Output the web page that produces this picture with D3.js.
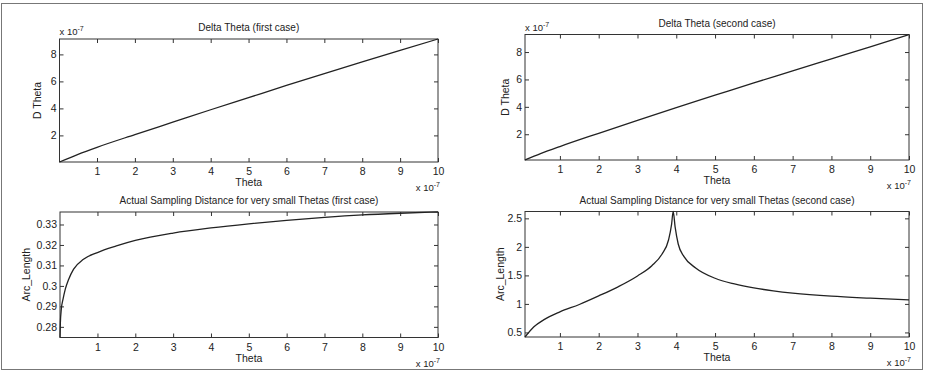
<!DOCTYPE html>
<html>
<head>
<meta charset="utf-8">
<script src="https://cdn.jsdelivr.net/npm/d3@7"></script>
<style>
  body { margin: 0; background: #fff; }
  text { font-family: "Liberation Sans", Arial, Helvetica, sans-serif; fill: #222; }
</style>
</head>
<body>
<svg id="fig" width="925" height="377"></svg>
<script>
// Theta values (units of 1e-7) and the series
const thetaDT1 = [0.01, 0.5, 1, 2, 3, 4, 5, 6, 7, 8, 9, 10];
const dTheta1  = [0.03, 0.6, 1.12, 2.06, 2.98, 3.9, 4.8, 5.7, 6.58, 7.45, 8.3, 9.14];

const thetaDT2 = [0.1, 0.5, 1, 2, 3, 4, 5, 6, 7, 8, 9, 10];
const dTheta2  = [0.12, 0.58, 1.1, 2.07, 3.02, 3.95, 4.85, 5.75, 6.62, 7.5, 8.38, 9.28];

const thetaArc1 = [0.01, 0.02, 0.045, 0.09, 0.15, 0.24, 0.37, 0.63, 1, 1.5, 2, 3, 4, 5, 6, 7, 8, 9, 10];
const arcLen1   = [0.2748, 0.282, 0.2887, 0.2935, 0.2984, 0.3033, 0.3082, 0.313, 0.3163, 0.3195, 0.3222,
                   0.3258, 0.3283, 0.3303, 0.332, 0.3335, 0.3347, 0.3355, 0.3361];

const thetaArc2 = [0.1, 0.33, 0.58, 1, 1.5, 2, 2.5, 3, 3.37, 3.63, 3.8, 3.88, 3.92, 3.97, 4.05, 4.2,
                   4.5, 5, 5.5, 6, 6.5, 7, 8, 9, 10];
const arcLen2   = [0.42, 0.6, 0.72, 0.86, 0.99, 1.14, 1.3, 1.49, 1.67, 1.87, 2.12, 2.4, 2.62, 2.35,
                   2.05, 1.83, 1.63, 1.45, 1.35, 1.28, 1.23, 1.19, 1.135, 1.10, 1.07];

const xTicks = [1, 2, 3, 4, 5, 6, 7, 8, 9, 10];
const yTicksDT = [2, 4, 6, 8];
const yTicksArc1 = [0.28, 0.29, 0.3, 0.31, 0.32, 0.33];
const yTicksArc2 = [0.5, 1, 1.5, 2, 2.5];

const svg = d3.select("#fig");

// outer frame of the scanned figure
svg.append("rect")
  .attr("x", 1.5).attr("y", 3.5)
  .attr("width", 921).attr("height", 366)
  .attr("fill", "none")
  .attr("stroke", "#777");

function sciLabel(g, x, y, anchor) {
  const t = g.append("text")
    .attr("x", x).attr("y", y)
    .attr("text-anchor", anchor)
    .style("font-size", "9.5px");
  t.append("tspan").text("x 10");
  t.append("tspan").attr("dy", -4).style("font-size", "7px").text("-7");
}

function panel(p) {
  const x = d3.scaleLinear().domain(d3.extent(p.xs)).range([p.left, p.right]);
  const y = d3.scaleLinear().domain(d3.extent(p.ys)).range([p.bottom, p.top]);
  const w = p.right - p.left, h = p.bottom - p.top;
  const g = svg.append("g");

  // axes with inward ticks on all four sides
  g.append("g").attr("transform", `translate(0,${p.bottom})`)
    .call(d3.axisBottom(x).tickValues(xTicks).tickSizeInner(-4).tickSizeOuter(0).tickPadding(6));
  g.append("g").attr("transform", `translate(0,${p.top})`)
    .call(d3.axisTop(x).tickValues(xTicks).tickSizeInner(-4).tickSizeOuter(0).tickFormat(""));
  g.append("g").attr("transform", `translate(${p.left},0)`)
    .call(d3.axisLeft(y).tickValues(p.yTicks).tickSizeInner(-4).tickSizeOuter(0).tickPadding(3)
      .tickFormat(d => String(+d.toFixed(2))));
  g.append("g").attr("transform", `translate(${p.right},0)`)
    .call(d3.axisRight(y).tickValues(p.yTicks).tickSizeInner(-4).tickSizeOuter(0).tickFormat(""));

  g.selectAll(".domain").remove();
  g.selectAll(".tick line").attr("stroke", "#333");
  g.selectAll(".tick text").style("font-size", "10.5px").attr("fill", "#222")
    .style("font-family", "'Liberation Sans', Arial, sans-serif");

  g.append("rect")
    .attr("x", p.left).attr("y", p.top)
    .attr("width", w).attr("height", h)
    .attr("fill", "none")
    .attr("stroke", "#333")
    .attr("stroke-width", 1);

  const pts = p.xs.map((v, i) => [v, p.ys[i]]);
  g.append("path")
    .datum(pts)
    .attr("fill", "none")
    .attr("stroke", "#222")
    .attr("stroke-width", 1.3)
    .attr("d", d3.line().x(d => x(d[0])).y(d => y(d[1])).curve(d3.curveMonotoneX));

  // title
  g.append("text")
    .attr("x", (p.left + p.right) / 2).attr("y", p.top - 8)
    .attr("text-anchor", "middle")
    .style("font-size", "10px")
    .text(p.title);

  // x label
  g.append("text")
    .attr("x", (p.left + p.right) / 2).attr("y", p.bottom + 24)
    .attr("text-anchor", "middle")
    .style("font-size", "10.5px")
    .text("Theta");

  // y label
  g.append("text")
    .attr("transform", `translate(${p.ylabelX},${(p.top + p.bottom) / 2}) rotate(-90)`)
    .attr("text-anchor", "middle")
    .style("font-size", "10.5px")
    .text(p.ylabel);

  sciLabel(g, p.right + 2, p.bottom + 29, "end");
  if (p.topSci) sciLabel(g, p.left, p.top - 4, "start");
}

panel({ left: 59.5, right: 438, top: 39, bottom: 162, xs: thetaDT1, ys: dTheta1,
        yTicks: yTicksDT, title: "Delta Theta (first case)", ylabel: "D Theta", ylabelX: 41, topSci: true });
panel({ left: 525, right: 909, top: 34.5, bottom: 160, xs: thetaDT2, ys: dTheta2,
        yTicks: yTicksDT, title: "Delta Theta (second case)", ylabel: "D Theta", ylabelX: 509, topSci: true });
panel({ left: 60, right: 438, top: 212, bottom: 337.5, xs: thetaArc1, ys: arcLen1,
        yTicks: yTicksArc1, title: "Actual Sampling Distance for very small Thetas (first case)",
        ylabel: "Arc_Length", ylabelX: 30, topSci: false });
panel({ left: 525, right: 909, top: 211.5, bottom: 337, xs: thetaArc2, ys: arcLen2,
        yTicks: yTicksArc2, title: "Actual Sampling Distance for very small Thetas (second case)",
        ylabel: "Arc_Length", ylabelX: 504, topSci: false });
</script>
</body>
</html>
